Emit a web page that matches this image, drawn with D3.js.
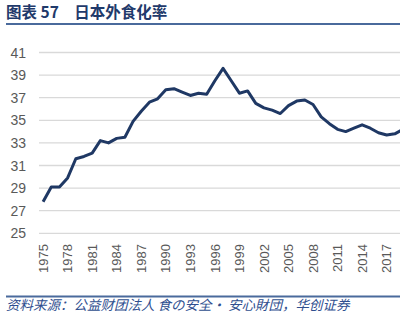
<!DOCTYPE html>
<html><head><meta charset="utf-8">
<script src="https://cdn.jsdelivr.net/npm/d3@7"></script>
<style>
html,body{margin:0;padding:0;background:#fff;overflow:hidden;}
svg{display:block;}
</style></head>
<body>
<script>
const years = d3.range(1975, 2020);
const values = [27.8,29.1,29.1,29.9,31.6,31.8,32.1,33.2,33.0,33.4,
                33.5,34.9,35.8,36.6,36.9,37.7,37.8,37.5,37.2,37.4,
                37.3,38.5,39.6,38.5,37.4,37.6,36.5,36.1,35.9,35.6,
                36.3,36.7,36.8,36.4,35.3,34.7,34.2,34.0,34.3,34.6,
                34.3,33.9,33.7,33.8,34.2];
const yTicks = [25,27,29,31,33,35,37,39,41];
const xLabelYears = d3.range(1975, 2018, 3);
const title = "图表 57\u3000日本外食化率";
const source = "资料来源：公益财团法人 食の安全・ 安心財団，华创证券";

const W = 400, H = 326;
const svg = d3.select("body").append("svg").attr("width", W).attr("height", H);

const x = d3.scaleBand().domain(years).range([39, 39 + years.length * 8.18]).padding(0);
const y = d3.scaleLinear().domain([25, 41]).range([233.3, 52.5]);

// title
svg.append("text").attr("x", 6).attr("y", 18)
  .attr("font-family", "'Noto Sans CJK SC', sans-serif").attr("font-weight", "bold")
  .attr("font-size", 15.5).attr("fill", "#1F3A6B").text(title);
svg.append("line").attr("x1", 6).attr("x2", W).attr("y1", 24).attr("y2", 24)
  .attr("stroke", "#4A6A9C").attr("stroke-width", 2.2);

// gridlines
svg.append("g").selectAll("line").data(yTicks).join("line")
  .attr("x1", 39).attr("x2", x.range()[1])
  .attr("y1", d => y(d)).attr("y2", d => y(d))
  .attr("stroke", "#D9D9D9").attr("stroke-width", 1.3);

// y labels
svg.append("g").selectAll("text").data(yTicks).join("text")
  .attr("x", 26).attr("y", d => y(d)).attr("dy", "0.36em")
  .attr("text-anchor", "end").attr("font-family", "'Liberation Sans', Arial, sans-serif")
  .attr("font-size", 14).attr("fill", "#595959").text(d => d);

// x labels
svg.append("g").selectAll("text").data(xLabelYears).join("text")
  .attr("transform", d => `translate(${x(d) + x.bandwidth()/2},244) rotate(-90)`)
  .attr("dy", "0.36em").attr("text-anchor", "end")
  .attr("font-family", "'Liberation Sans', Arial, sans-serif")
  .attr("font-size", 13).attr("fill", "#595959").text(d => d);

// line
const data = years.map((yr, i) => ({yr, v: values[i]}));
svg.append("path").datum(data)
  .attr("fill", "none").attr("stroke", "#1F3864").attr("stroke-width", 3)
  .attr("stroke-linejoin", "round")
  .attr("d", d3.line().x(d => x(d.yr) + x.bandwidth()/2).y(d => y(d.v)));

// footer
svg.append("line").attr("x1", 6).attr("x2", W).attr("y1", 296.5).attr("y2", 296.5)
  .attr("stroke", "#4A6A9C").attr("stroke-width", 1.8);
svg.append("text").attr("x", 6).attr("y", 310)
  .attr("font-family", "'Noto Sans CJK SC', sans-serif").attr("font-style", "italic")
  .attr("font-size", 13.5).attr("fill", "#2F4F8F").text(source);
</script>
</body></html>
